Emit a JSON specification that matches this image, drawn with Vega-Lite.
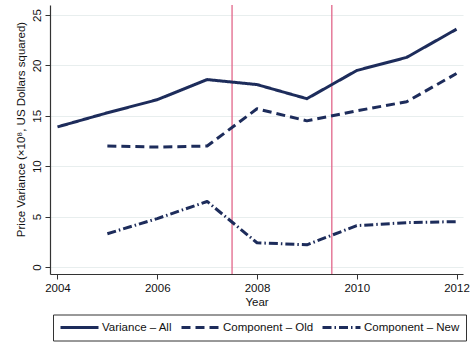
{
  "$schema": "https://vega.github.io/schema/vega-lite/v6.json",
  "width": 413,
  "height": 269,
  "autosize": {"type": "none"},
  "padding": {"left": 50, "top": 5, "right": 11, "bottom": 70},
  "background": "white",
  "config": {
    "view": {"stroke": null},
    "font": "Liberation Sans",
    "axis": {
      "domainColor": "#333333",
      "tickColor": "#333333",
      "labelColor": "#111111",
      "titleColor": "#111111",
      "labelFont": "Liberation Sans",
      "titleFont": "Liberation Sans",
      "labelFontSize": 11.5,
      "titleFontSize": 11.5,
      "titleFontWeight": "normal",
      "tickSize": 5,
      "domainWidth": 1.2
    }
  },
  "datasets": {
    "series": [
      {"year": 2004, "value": 13.9, "series": "Variance – All"},
      {"year": 2005, "value": 15.3, "series": "Variance – All"},
      {"year": 2006, "value": 16.6, "series": "Variance – All"},
      {"year": 2007, "value": 18.6, "series": "Variance – All"},
      {"year": 2008, "value": 18.1, "series": "Variance – All"},
      {"year": 2009, "value": 16.7, "series": "Variance – All"},
      {"year": 2010, "value": 19.5, "series": "Variance – All"},
      {"year": 2011, "value": 20.8, "series": "Variance – All"},
      {"year": 2012, "value": 23.6, "series": "Variance – All"},
      {"year": 2005, "value": 12.0, "series": "Component – Old"},
      {"year": 2006, "value": 11.9, "series": "Component – Old"},
      {"year": 2007, "value": 12.0, "series": "Component – Old"},
      {"year": 2008, "value": 15.7, "series": "Component – Old"},
      {"year": 2009, "value": 14.5, "series": "Component – Old"},
      {"year": 2010, "value": 15.5, "series": "Component – Old"},
      {"year": 2011, "value": 16.4, "series": "Component – Old"},
      {"year": 2012, "value": 19.2, "series": "Component – Old"},
      {"year": 2005, "value": 3.3, "series": "Component – New"},
      {"year": 2006, "value": 4.8, "series": "Component – New"},
      {"year": 2007, "value": 6.5, "series": "Component – New"},
      {"year": 2008, "value": 2.4, "series": "Component – New"},
      {"year": 2009, "value": 2.2, "series": "Component – New"},
      {"year": 2010, "value": 4.1, "series": "Component – New"},
      {"year": 2011, "value": 4.4, "series": "Component – New"},
      {"year": 2012, "value": 4.5, "series": "Component – New"}
    ],
    "breaks": [
      {"year": 2007.5},
      {"year": 2009.5}
    ]
  },
  "layer": [
    {
      "data": {"name": "breaks"},
      "mark": {"type": "rule", "color": "#e2668a", "strokeWidth": 1.3},
      "encoding": {
        "x": {
          "field": "year",
          "type": "quantitative",
          "scale": {"domain": [2003.85, 2012.13], "nice": false, "zero": false},
          "axis": {
            "title": "Year",
            "values": [2004, 2006, 2008, 2010, 2012],
            "format": "d",
            "grid": false,
            "labelPadding": 3,
            "titlePadding": 3
          }
        }
      }
    },
    {
      "data": {"name": "series"},
      "mark": {"type": "line", "color": "#1d2c5b", "strokeWidth": 3, "strokeCap": "butt", "strokeJoin": "round"},
      "encoding": {
        "x": {"field": "year", "type": "quantitative"},
        "y": {
          "field": "value",
          "type": "quantitative",
          "scale": {"domain": [-0.7, 26], "nice": false, "zero": false},
          "axis": {
            "title": "Price Variance (×10⁸, US Dollars squared)",
            "titleY": 124,
            "values": [0, 5, 10, 15, 20, 25],
            "grid": true,
            "gridColor": "#e8eeee",
            "gridWidth": 1.2,
            "labelAngle": -90,
            "labelAlign": "center",
            "labelBaseline": "bottom",
            "labelPadding": 3,
            "titlePadding": 5
          }
        },
        "strokeDash": {
          "field": "series",
          "type": "nominal",
          "scale": {
            "domain": ["Variance – All", "Component – Old", "Component – New"],
            "range": [[1, 0], [9, 5], [9, 3, 1.5, 3]]
          },
          "legend": {
            "title": null,
            "orient": "none",
            "legendX": 3,
            "legendY": 309.5,
            "direction": "horizontal",
            "strokeColor": "#333333",
            "fillColor": "white",
            "padding": 6,
            "symbolType": "stroke",
            "symbolSize": 1444,
            "clipHeight": 14,
            "symbolStrokeWidth": 3,
            "symbolStrokeColor": "#1d2c5b",
            "labelFontSize": 11.5,
            "labelColor": "#111111",
            "labelOffset": 2,
            "columnPadding": 7,
            "labelLimit": 200
          }
        }
      }
    }
  ]
}
